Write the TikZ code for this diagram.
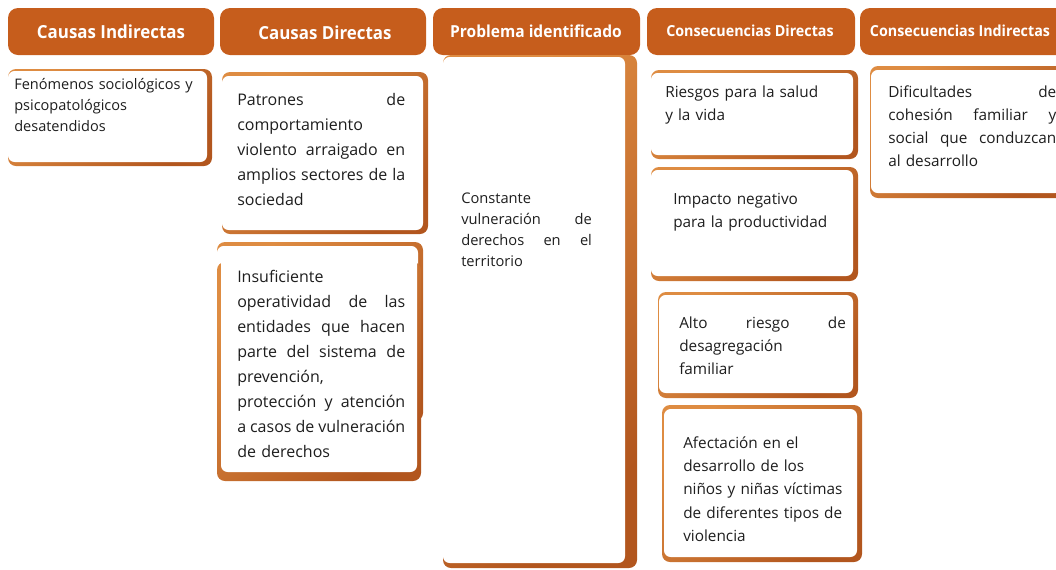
\documentclass[tikz,border=0pt]{standalone}
\usepackage{fontspec}
\setmainfont{Open Sans}
\newfontfamily\titfont[FakeStretch=0.94]{Open Sans}
\definecolor{naranja}{RGB}{198,93,28}
\definecolor{naranjaclaro}{RGB}{222,140,66}
\definecolor{naranjaoscuro}{RGB}{178,86,30}
\definecolor{letra}{RGB}{30,30,30}
\newcommand{\lj}[2]{\leavevmode\hbox to #1{\spaceskip=0pt\xspaceskip=0pt #2}}

\begin{document}
\begin{tikzpicture}[x=0.75pt, y=-0.75pt,
    encabezado/.style={fill=naranja, rounded corners=7.5pt},
    titulo/.style={text=white, inner sep=0pt, font=\titfont\bfseries\fontsize{#1}{#1}\selectfont},
    sombra/.style={top color=naranjaclaro, bottom color=naranjaoscuro, shading angle=45, rounded corners=6pt},
    cuerpo/.style={fill=white, rounded corners=5pt},
    texto/.style={anchor=north west, inner sep=0pt, align=left, text=letra, text width=#1}]
  \useasboundingbox (0,0) rectangle (1056,569);
  \clip (0,0) rectangle (1056,569);

  \fill[encabezado] (8,8) rectangle (214,55);
  \fill[encabezado] (220,8) rectangle (426,55);
  \fill[encabezado] (433,8) rectangle (640,55);
  \fill[encabezado] (647,8) rectangle (855,55);
  \fill[encabezado] (860,8) rectangle (1070,55);
  \node[titulo=13.5] (tci) at (111,32) {Causas Indirectas};
  \node[titulo=13.5] (tcd) at (325,33) {Causas Directas};
  \node[titulo=12.4] (tpi) at (536,31) {Problema identificado};
  \node[titulo=11.4] (tcod) at (750,31) {Consecuencias Directas};
  \node[titulo=11.4] (tcoi) at (960,31) {Consecuencias Indirectas};

  \shade[sombra] (8,69) rectangle (212,166);
  \fill[cuerpo] (8,71) rectangle (207,162);
  \node[texto=150pt, font=\fontsize{10.9}{15.75}\selectfont] (fen) at (14,78)
    {Fenómenos sociológicos y\\ psicopatológicos\\ desatendidos};

  \shade[sombra] (222,72) rectangle (428,234);
  \fill[cuerpo] (222,76) rectangle (423,230);
  \node[texto=126pt, font=\fontsize{12}{18.7}\selectfont] (pat) at (237,93)
    {\lj{126pt}{Patrones de}\\ comportamiento\\ \lj{126pt}{violento arraigado en}\\ \lj{126pt}{amplios sectores de la}\\ sociedad};

  \shade[sombra] (217,242) rectangle (423,421);
  \fill[cuerpo] (217,246) rectangle (418,414);
  \shade[sombra] (217,262) rectangle (421,481);
  \fill[cuerpo] (221,252) rectangle (417,472);
  \node[texto=126pt, font=\fontsize{12}{18.7}\selectfont] (ins) at (237,270)
    {Insuficiente\\ \lj{126pt}{operatividad de las}\\ \lj{126pt}{entidades que hacen}\\ \lj{126pt}{parte del sistema de}\\ prevención,\\
     \lj{126pt}{protección y atención}\\ \lj{126pt}{a casos de vulneración}\\ de derechos};

  \shade[sombra] (443,55) rectangle (637,568);
  \fill[cuerpo] (443,57) rectangle (625,563);
  \node[texto=98pt, font=\fontsize{11}{15.75}\selectfont] (cons) at (461,193)
    {Constante\\ \lj{98pt}{vulneración de}\\ \lj{98pt}{derechos en el}\\ territorio};

  \shade[sombra] (651,70) rectangle (858,159);
  \fill[cuerpo] (651,73) rectangle (853,155);
  \node[texto=135pt, font=\fontsize{11.5}{17.25}\selectfont] (rie) at (665,86)
    {Riesgos para la salud\\ y la vida};

  \shade[sombra] (651,167) rectangle (858,281);
  \fill[cuerpo] (651,170) rectangle (853,276);
  \node[texto=135pt, font=\fontsize{11.5}{17.25}\selectfont] (imp) at (673,193)
    {Impacto negativo\\ para la productividad};

  \shade[sombra] (658,292) rectangle (858,398);
  \fill[cuerpo] (659,295) rectangle (853,393);
  \node[texto=125pt, font=\fontsize{11.5}{17.25}\selectfont] (alt) at (679,317)
    {\lj{125pt}{Alto riesgo de}\\ desagregación\\ familiar};

  \shade[sombra] (662,405) rectangle (862,562);
  \fill[cuerpo] (664,409) rectangle (857,557);
  \node[texto=130pt, font=\fontsize{11.5}{17.5}\selectfont] (afe) at (683,436)
    {Afectación en el\\ desarrollo de los\\ niños y niñas víctimas\\ de diferentes tipos de\\ violencia};

  \shade[sombra] (870,66) rectangle (1066,198);
  \fill[cuerpo] (871,70) rectangle (1062,193);
  \node[texto=126pt, font=\fontsize{11.5}{17.25}\selectfont] (dif) at (888,85)
    {\lj{126pt}{Dificultades de}\\ \lj{126pt}{cohesión familiar y}\\ \lj{126pt}{social que conduzcan}\\ al desarrollo};
\end{tikzpicture}
\end{document}
